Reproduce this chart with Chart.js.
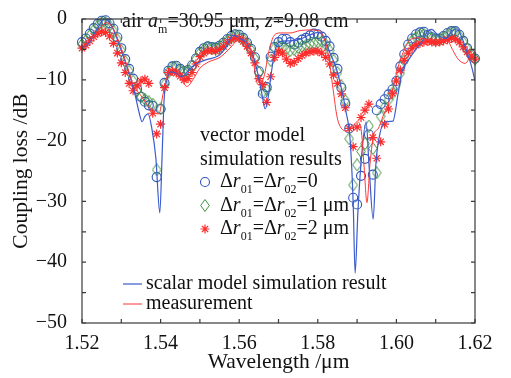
<!DOCTYPE html>
<html>
<head>
<meta charset="utf-8">
<script src="https://cdn.jsdelivr.net/npm/chart.js@4.4.1/dist/chart.umd.min.js"></script>
<style>
  html, body { margin: 0; padding: 0; background: #fff; }
  #wrap { width: 511px; height: 378px; }
</style>
</head>
<body>
<div id="wrap"><canvas id="loss" width="511" height="378"></canvas></div>
<script>
// vector model simulations, sampled every 1 nm (um)
const simWavelength = [
  1.520, 1.521, 1.522, 1.523, 1.524, 1.525, 1.526, 1.527, 1.528, 1.529,
  1.530, 1.531, 1.532, 1.533, 1.534, 1.535, 1.536, 1.537, 1.538, 1.539,
  1.540, 1.541, 1.542, 1.543, 1.544, 1.545, 1.546, 1.547, 1.548, 1.549,
  1.550, 1.551, 1.552, 1.553, 1.554, 1.555, 1.556, 1.557, 1.558, 1.559,
  1.560, 1.561, 1.562, 1.563, 1.564, 1.565, 1.566, 1.567, 1.568, 1.569,
  1.570, 1.571, 1.572, 1.573, 1.574, 1.575, 1.576, 1.577, 1.578, 1.579,
  1.580, 1.581, 1.582, 1.583, 1.584, 1.585, 1.586, 1.587, 1.588, 1.589,
  1.590, 1.591, 1.592, 1.593, 1.594, 1.595, 1.596, 1.597, 1.598, 1.599,
  1.600, 1.601, 1.602, 1.603, 1.604, 1.605, 1.606, 1.607, 1.608, 1.609,
  1.610, 1.611, 1.612, 1.613, 1.614, 1.615, 1.616, 1.617, 1.618, 1.619,
  1.620
];
// Δr01 = Δr02 = 0
const lossDr0 = [
  -3.8, -3.2, -2.4, -1.5, -0.8, -0.3, -0.2, -0.7, -1.6, -3.0,
  -4.8, -6.6, -8.2, -9.8, -11.5, -12.8, -13.6, -14.2, -14.3, -26.0,
  -14.8, -10.5, -8.5, -7.8, -7.7, -8.2, -8.6, -8.4, -7.6, -6.5,
  -5.4, -4.8, -4.5, -4.6, -4.7, -4.4, -3.9, -3.3, -2.8, -2.5,
  -2.6, -3.1, -3.9, -4.9, -6.3, -8.6, -12.3, -11.2, -6.2, -4.6,
  -3.8, -3.3, -3.3, -3.8, -4.2, -3.9, -3.4, -3.1, -2.7, -2.4,
  -2.5, -2.9, -3.6, -4.5, -6.4, -8.2, -11.3, -13.9, -18.0, -29.4,
  -30.5, -25.8, -23.0, -19.0, -25.6, -15.0, -14.0, -13.2, -12.4, -11.6,
  -10.2, -7.8, -5.8, -4.2, -3.2, -2.5, -2.2, -2.1, -2.6, -3.0,
  -3.3, -3.2, -2.8, -2.3, -2.0, -2.0, -2.6, -3.6, -4.8, -5.8,
  -6.5
];
// Δr01 = Δr02 = 1 um
const lossDr1 = [
  -4.2, -3.5, -2.7, -1.8, -1.1, -0.6, -0.6, -1.1, -2.0, -3.4,
  -5.2, -7.0, -8.6, -10.2, -11.8, -12.8, -13.2, -13.6, -14.0, -24.8,
  -14.8, -10.8, -8.8, -8.0, -7.9, -8.4, -8.8, -8.6, -7.8, -6.6,
  -5.6, -5.0, -4.7, -4.8, -4.9, -4.6, -4.1, -3.5, -3.0, -2.7,
  -2.8, -3.3, -4.1, -5.1, -6.6, -8.8, -12.0, -11.6, -6.8, -4.8,
  -4.4, -4.6, -5.0, -5.2, -5.0, -4.7, -4.5, -4.3, -4.1, -4.0,
  -3.8, -3.7, -4.2, -5.2, -6.8, -8.8, -11.0, -13.4, -19.7, -27.3,
  -24.0, -21.8, -20.5, -17.6, -21.3, -25.3, -16.0, -14.5, -13.3, -12.2,
  -10.8, -8.9, -6.8, -4.8, -3.6, -3.0, -2.6, -2.5, -2.8, -3.2,
  -3.4, -3.3, -3.0, -2.6, -2.3, -2.3, -2.8, -3.8, -4.9, -5.9,
  -6.6
];
// Δr01 = Δr02 = 2 um
const lossDr2 = [
  -4.8, -4.3, -3.6, -2.9, -2.4, -2.1, -2.2, -2.8, -4.0, -5.6,
  -7.2, -8.8, -10.6, -11.8, -11.0, -10.2, -9.9, -10.6, -15.5, -18.9,
  -17.3, -11.3, -8.8, -8.6, -8.9, -9.4, -10.0, -9.8, -8.8, -7.4,
  -6.2, -5.6, -5.2, -5.2, -5.3, -5.0, -4.5, -3.9, -3.4, -3.1,
  -3.2, -3.7, -4.5, -5.6, -7.2, -9.8, -10.8, -13.7, -9.5, -6.3,
  -5.4, -5.6, -6.6, -7.3, -7.1, -6.5, -6.0, -5.6, -5.4, -5.3,
  -5.3, -5.6, -6.3, -7.4, -9.2, -10.6, -12.3, -14.6, -18.0, -21.0,
  -17.8, -16.2, -15.0, -14.0, -19.5, -22.9, -20.2, -17.3, -14.8, -12.2,
  -10.2, -8.4, -6.8, -5.6, -4.8, -4.3, -4.0, -3.8, -3.7, -3.8,
  -3.9, -3.8, -3.6, -3.4, -3.2, -3.3, -3.8, -4.6, -5.4, -6.1,
  -6.6
];

// scalar model simulation result
const scalarWavelength = [
  1.5200, 1.5220, 1.5236, 1.5258, 1.5268, 1.5281, 1.5299, 1.5317, 1.5332, 1.5345,
  1.5353, 1.5360, 1.5368, 1.5378, 1.5388, 1.5398, 1.5404, 1.5409, 1.5416, 1.5426,
  1.5439, 1.5454, 1.5470, 1.5485, 1.5500, 1.5521, 1.5546, 1.5566, 1.5584, 1.5602,
  1.5620, 1.5635, 1.5648, 1.5658, 1.5666, 1.5673, 1.5681, 1.5691, 1.5704, 1.5729,
  1.5755, 1.5780, 1.5801, 1.5816, 1.5831, 1.5846, 1.5859, 1.5872, 1.5882, 1.5890,
  1.5895, 1.5902, 1.5912, 1.5923, 1.5930, 1.5941, 1.5948, 1.5958, 1.5971, 1.5991,
  1.6004, 1.6014, 1.6030, 1.6047, 1.6065, 1.6080, 1.6090, 1.6105, 1.6125, 1.6141,
  1.6155, 1.6165, 1.6180, 1.6192, 1.6200
];
const scalarLoss = [
  -4.8, -3.8, -1.9, 0.0, -0.4, -1.9, -5.0, -8.4, -11.6, -15.3,
  -16.9, -16.0, -15.6, -18.1, -22.9, -31.9, -22.1, -13.2, -10.0, -8.7,
  -8.9, -9.5, -8.5, -7.6, -7.1, -6.6, -6.1, -4.7, -2.7, -3.2,
  -4.0, -6.0, -9.2, -12.4, -14.8, -13.2, -9.2, -5.2, -3.7, -3.6,
  -3.3, -2.6, -2.2, -3.0, -5.6, -7.9, -11.1, -15.3, -19.7, -30.2,
  -41.8, -31.8, -22.1, -16.9, -23.7, -32.9, -23.7, -18.9, -16.9, -16.8,
  -12.4, -8.7, -6.8, -5.2, -3.7, -2.0, -1.7, -2.6, -3.2, -2.0,
  -1.6, -2.8, -5.5, -8.0, -10.2
];

// measurement
const measWavelength = [
  1.5200, 1.5225, 1.5250, 1.5262, 1.5278, 1.5300, 1.5318, 1.5330, 1.5348, 1.5365,
  1.5386, 1.5396, 1.5406, 1.5416, 1.5429, 1.5449, 1.5467, 1.5482, 1.5500, 1.5521,
  1.5551, 1.5582, 1.5602, 1.5617, 1.5633, 1.5648, 1.5663, 1.5676, 1.5689, 1.5704,
  1.5729, 1.5755, 1.5780, 1.5801, 1.5813, 1.5826, 1.5839, 1.5849, 1.5859, 1.5874,
  1.5887, 1.5900, 1.5910, 1.5918, 1.5925, 1.5933, 1.5943, 1.5953, 1.5966, 1.5979,
  1.5989, 1.6002, 1.6017, 1.6035, 1.6055, 1.6080, 1.6111, 1.6131, 1.6144, 1.6157,
  1.6175, 1.6187, 1.6200
];
const measLoss = [
  -4.9, -3.2, -1.2, -0.6, -1.4, -4.8, -8.4, -10.8, -12.4, -14.0,
  -15.5, -15.6, -12.4, -9.5, -8.4, -9.5, -11.1, -10.0, -8.1, -7.1,
  -6.3, -4.4, -2.9, -3.2, -6.0, -10.8, -9.5, -5.2, -2.7, -2.3,
  -2.3, -1.9, -1.8, -1.9, -2.7, -5.6, -11.6, -16.1, -17.9, -18.4,
  -17.9, -16.9, -18.1, -24.5, -30.2, -23.7, -18.9, -18.1, -16.0, -14.0,
  -12.1, -8.4, -5.5, -3.4, -3.1, -3.4, -3.5, -3.7, -5.2, -6.6,
  -7.3, -6.3, -5.3
];

const xTickLabels = ['1.52', '1.54', '1.56', '1.58', '1.60', '1.62'];
const yTickLabels = ['−50', '−40', '−30', '−20', '−10', '0'];

const FONT = '"Liberation Serif", "Times New Roman", serif';
Chart.defaults.font.family = FONT;
Chart.defaults.color = '#111';

function pairs(xs, ys) {
  return xs.map((x, i) => ({ x: x, y: ys[i] }));
}

// narrow diamond marker like the original
const diamond = document.createElement('canvas');
diamond.width = 10;
diamond.height = 13;
(function () {
  const c = diamond.getContext('2d');
  c.strokeStyle = '#3f8f3f';
  c.lineWidth = 1;
  c.beginPath();
  c.moveTo(5, 0.5);
  c.lineTo(9.3, 6.5);
  c.lineTo(5, 12.5);
  c.lineTo(0.7, 6.5);
  c.closePath();
  c.stroke();
})();

// text with italic parts and subscripts
function richText(ctx, x, y, parts, size) {
  parts.forEach(([txt, kind]) => {
    let fs = size, dy = 0, style = '';
    if (kind === 'i') style = 'italic ';
    if (kind === 's') { fs = Math.round(size * 0.62); dy = size * 0.3; }
    ctx.font = style + fs + 'px ' + FONT;
    ctx.fillText(txt, x, y + dy);
    x += ctx.measureText(txt).width;
  });
  return x;
}

const annotate = {
  id: 'annotate',
  afterDatasetsDraw(chart) {
    const ctx = chart.ctx;
    ctx.save();
    ctx.fillStyle = '#111';
    ctx.textAlign = 'left';
    ctx.textBaseline = 'alphabetic';
    richText(ctx, 122, 27, [['air ', 'n'], ['a', 'i'], ['m', 's'], ['=30.95 μm, ', 'n'], ['z', 'i'], ['=9.08 cm', 'n']], 20);

    richText(ctx, 200, 141, [['vector model', 'n']], 20);
    richText(ctx, 200, 164.5, [['simulation results', 'n']], 20);
    const rows = [[4, '0', 187], [3, '1 μm', 210.5], [2, '2 μm', 234]];
    rows.forEach(([di, tail, y]) => {
      const ds = chart.data.datasets[di];
      ctx.strokeStyle = ds.borderColor;
      ctx.fillStyle = 'rgba(0,0,0,0)';
      ctx.lineWidth = ds.borderWidth;
      Chart.helpers.drawPoint(ctx, { pointStyle: ds.pointStyle, radius: ds.pointRadius, rotation: 0, borderWidth: ds.borderWidth }, 205, y - 5);
      ctx.fillStyle = '#111';
      richText(ctx, 220, y, [['Δ', 'n'], ['r', 'i'], ['01', 's'], ['=Δ', 'n'], ['r', 'i'], ['02', 's'], ['=' + tail, 'n']], 20);
    });

    const lines = [[1, 'scalar model simulation result', 289], [0, 'measurement', 309]];
    lines.forEach(([di, txt, y]) => {
      const ds = chart.data.datasets[di];
      ctx.strokeStyle = ds.borderColor;
      ctx.lineWidth = ds.borderWidth;
      ctx.beginPath();
      ctx.moveTo(123, y - 5);
      ctx.lineTo(142, y - 5);
      ctx.stroke();
      ctx.fillStyle = '#111';
      richText(ctx, 146, y, [[txt, 'n']], 20);
    });
    ctx.restore();
  }
};

// box with inward ticks on all sides
const frame = {
  id: 'frame',
  afterDraw(chart) {
    const { ctx, chartArea: a, scales } = chart;
    ctx.save();
    ctx.strokeStyle = '#3a3a3a';
    ctx.lineWidth = 1.2;
    ctx.strokeRect(a.left, a.top, a.right - a.left, a.bottom - a.top);
    ctx.beginPath();
    scales.x.ticks.forEach(t => {
      const px = scales.x.getPixelForValue(t.value);
      ctx.moveTo(px, a.bottom); ctx.lineTo(px, a.bottom - 4);
      ctx.moveTo(px, a.top); ctx.lineTo(px, a.top + 4);
    });
    scales.y.ticks.forEach(t => {
      const py = scales.y.getPixelForValue(t.value);
      ctx.moveTo(a.left, py); ctx.lineTo(a.left + 4, py);
      ctx.moveTo(a.right, py); ctx.lineTo(a.right - 4, py);
    });
    ctx.stroke();
    ctx.restore();
  }
};

new Chart(document.getElementById('loss'), {
  type: 'scatter',
  data: {
    datasets: [
      {
        label: 'measurement',
        data: pairs(measWavelength, measLoss),
        showLine: true,
        borderColor: '#ff3535',
        borderWidth: 1,
        pointRadius: 0,
        cubicInterpolationMode: 'monotone'
      },
      {
        label: 'scalar model simulation result',
        data: pairs(scalarWavelength, scalarLoss),
        showLine: true,
        borderColor: '#3a5ccc',
        borderWidth: 1.2,
        pointRadius: 0,
        cubicInterpolationMode: 'monotone'
      },
      {
        label: 'Δr01=Δr02=2 μm',
        data: pairs(simWavelength, lossDr2),
        pointStyle: 'star',
        pointRadius: 4.5,
        borderColor: '#ff2a2a',
        borderWidth: 1.2,
        backgroundColor: 'rgba(0,0,0,0)',
        clip: 8
      },
      {
        label: 'Δr01=Δr02=1 μm',
        data: pairs(simWavelength, lossDr1),
        pointStyle: diamond,
        pointRadius: 5,
        borderColor: '#3f8f3f',
        borderWidth: 1,
        backgroundColor: 'rgba(0,0,0,0)',
        clip: 8
      },
      {
        label: 'Δr01=Δr02=0',
        data: pairs(simWavelength, lossDr0),
        pointStyle: 'circle',
        pointRadius: 4.5,
        borderColor: '#2f55c0',
        borderWidth: 1.1,
        backgroundColor: 'rgba(0,0,0,0)',
        clip: 8
      }
    ]
  },
  options: {
    responsive: false,
    animation: false,
    devicePixelRatio: 1,
    layout: { padding: { left: 0, right: 36, top: 13, bottom: 0 } },
    plugins: { legend: { display: false }, tooltip: { enabled: false } },
    scales: {
      x: {
        type: 'linear',
        min: 1.52,
        max: 1.62,
        afterFit: s => { s.height = 55; },
        grid: { display: false },
        border: { display: false },
        ticks: {
          stepSize: 0.01,
          autoSkip: false,
          maxRotation: 0,
          padding: 1,
          font: { size: 20 },
          callback: v => {
            const s = v.toFixed(2);
            return xTickLabels.includes(s) ? s : '';
          }
        },
        title: { display: true, text: 'Wavelength /μm', font: { size: 21.5 }, padding: { top: 0, bottom: 3 } }
      },
      y: {
        min: -50,
        max: 0,
        afterFit: s => { s.width = 82; },
        grid: { display: false },
        border: { display: false },
        ticks: {
          stepSize: 5,
          padding: 7,
          font: { size: 20 },
          callback: v => {
            const s = String(Math.round(v)).replace('-', '−');
            return yTickLabels.includes(s) ? s : '';
          }
        },
        title: { display: true, text: 'Coupling loss /dB', font: { size: 21.5 }, padding: { top: 8, bottom: 0 } }
      }
    }
  },
  plugins: [annotate, frame]
});
</script>
</body>
</html>
